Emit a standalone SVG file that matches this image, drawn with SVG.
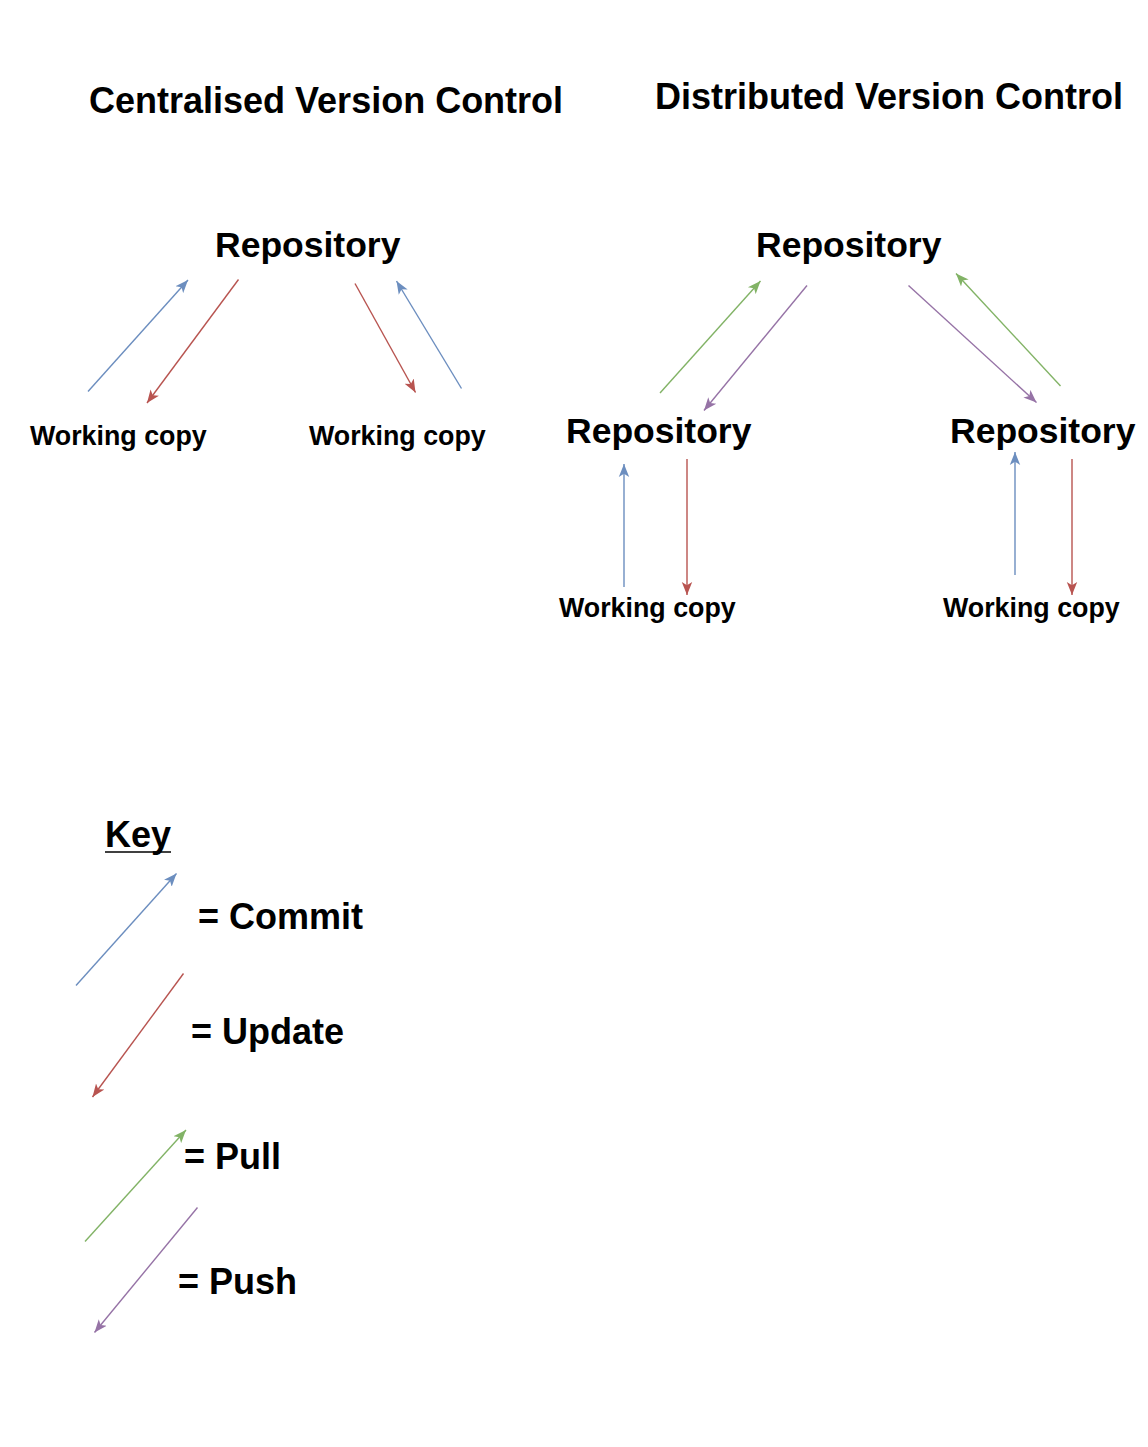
<svg xmlns="http://www.w3.org/2000/svg" width="1148" height="1447" viewBox="0 0 1148 1447">
<style>
text{font-family:"Liberation Sans",Arial,sans-serif;font-weight:bold;fill:#000}
.t{font-size:36px}
.r{font-size:35.5px}
.w{font-size:26.8px}
.k{font-size:36px}
line{stroke-width:1.4;fill:none}
.blue{stroke:#6c8ebf;marker-end:url(#mb)}
.red{stroke:#b85450;marker-end:url(#mr)}
.green{stroke:#82b366;marker-end:url(#mg)}
.purple{stroke:#9673a6;marker-end:url(#mp)}
</style>
<defs>
<marker id="mb" viewBox="0 0 14 12" refX="13" refY="6" markerWidth="14" markerHeight="12" markerUnits="userSpaceOnUse" orient="auto"><path d="M13,6 L0,0.8 L3.3,6 L0,11.2 Z" fill="#6c8ebf"/></marker>
<marker id="mr" viewBox="0 0 14 12" refX="13" refY="6" markerWidth="14" markerHeight="12" markerUnits="userSpaceOnUse" orient="auto"><path d="M13,6 L0,0.8 L3.3,6 L0,11.2 Z" fill="#b85450"/></marker>
<marker id="mg" viewBox="0 0 14 12" refX="13" refY="6" markerWidth="14" markerHeight="12" markerUnits="userSpaceOnUse" orient="auto"><path d="M13,6 L0,0.8 L3.3,6 L0,11.2 Z" fill="#82b366"/></marker>
<marker id="mp" viewBox="0 0 14 12" refX="13" refY="6" markerWidth="14" markerHeight="12" markerUnits="userSpaceOnUse" orient="auto"><path d="M13,6 L0,0.8 L3.3,6 L0,11.2 Z" fill="#9673a6"/></marker>
</defs>
<rect width="1148" height="1447" fill="#ffffff"/>

<g id="title-centralised"><text class="t" x="89" y="113">Centralised Version Control</text></g>
<g id="title-distributed"><text class="t" x="655" y="109">Distributed Version Control</text></g>

<g id="cvc-repository"><text class="r" x="215" y="257">Repository</text></g>
<g id="cvc-working-copy-1"><text class="w" x="30" y="445">Working copy</text></g>
<g id="cvc-working-copy-2"><text class="w" x="309" y="445">Working copy</text></g>

<g id="dvc-repository-top"><text class="r" x="756" y="257">Repository</text></g>
<g id="dvc-repository-left"><text class="r" x="566" y="443">Repository</text></g>
<g id="dvc-repository-right"><text class="r" x="950" y="443">Repository</text></g>
<g id="dvc-working-copy-1"><text class="w" x="559" y="617">Working copy</text></g>
<g id="dvc-working-copy-2"><text class="w" x="943" y="617">Working copy</text></g>

<g id="key">
<text class="k" x="105" y="847">Key</text>
<line x1="105" y1="852" x2="171" y2="852" stroke="#000" stroke-width="2.5" style="marker-end:none"/>
<text class="k" x="198" y="929">= Commit</text>
<text class="k" x="191" y="1044">= Update</text>
<text class="k" x="184" y="1169">= Pull</text>
<text class="k" x="178" y="1294">= Push</text>
</g>

<g id="connectors">
<line class="blue" x1="88" y1="391.5" x2="188" y2="280"/>
<line class="red" x1="238.5" y1="279.5" x2="147" y2="403"/>
<line class="red" x1="355" y1="283.5" x2="415.5" y2="392.5"/>
<line class="blue" x1="461.5" y1="388.5" x2="396.5" y2="281"/>

<line class="green" x1="660" y1="393" x2="760.5" y2="281"/>
<line class="purple" x1="807" y1="285.5" x2="704" y2="410.5"/>
<line class="purple" x1="908.5" y1="285.5" x2="1036.5" y2="402.5"/>
<line class="green" x1="1060.5" y1="386" x2="956" y2="273.5"/>

<line class="blue" x1="624" y1="587" x2="624" y2="464"/>
<line class="red" x1="687" y1="459" x2="687" y2="595"/>
<line class="blue" x1="1015" y1="575" x2="1015" y2="452"/>
<line class="red" x1="1072" y1="459" x2="1072" y2="595"/>

<line class="blue" x1="76" y1="985.5" x2="176.5" y2="873.5"/>
<line class="red" x1="183.5" y1="973.5" x2="92.5" y2="1097"/>
<line class="green" x1="85" y1="1241.5" x2="186" y2="1130"/>
<line class="purple" x1="197.5" y1="1207.5" x2="94.5" y2="1332.5"/>
</g>
</svg>
